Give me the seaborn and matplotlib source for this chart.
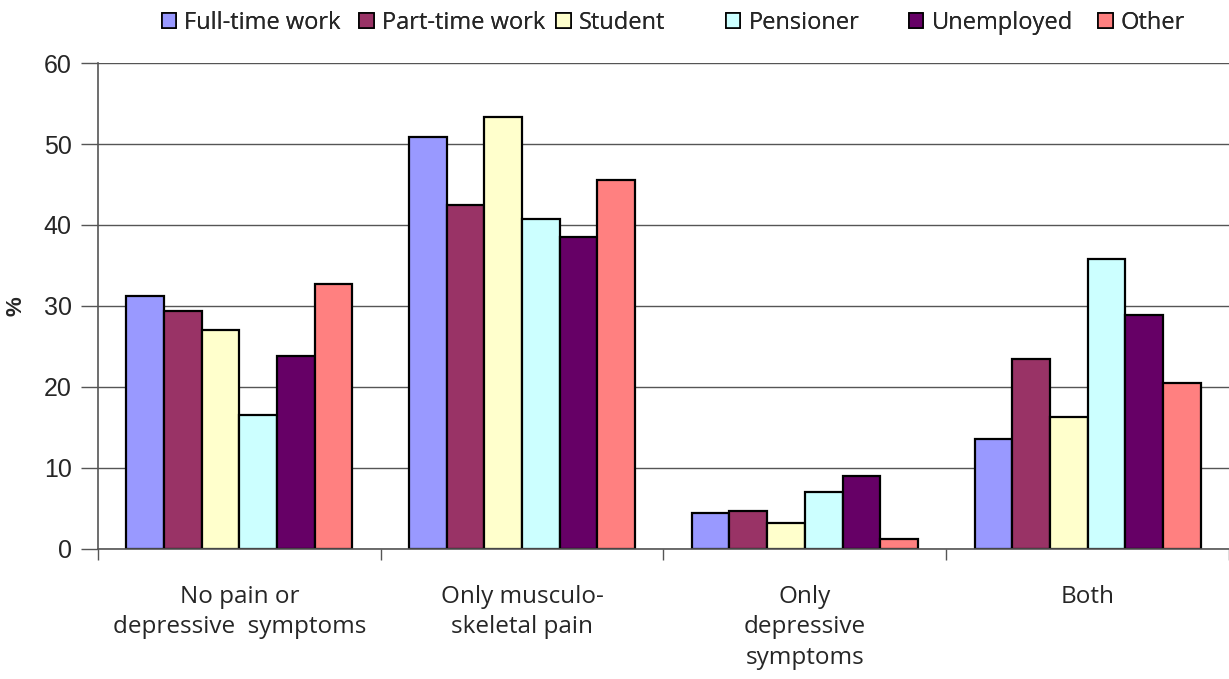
import pandas as pd
import matplotlib.pyplot as plt
import seaborn as sns
from matplotlib.patches import Patch

# categories and series
groups = ["No pain or\ndepressive  symptoms", "Only musculo-\nskeletal pain",
          "Only\ndepressive\nsymptoms", "Both"]
statuses = ["Full-time work", "Part-time work", "Student", "Pensioner", "Unemployed", "Other"]

full_time = [31.2, 50.9, 4.5, 13.6]
part_time = [29.4, 42.5, 4.7, 23.5]
student = [27.0, 53.3, 3.2, 16.3]
pensioner = [16.5, 40.8, 7.0, 35.8]
unemployed = [23.8, 38.5, 9.0, 28.9]
other = [32.7, 45.5, 1.2, 20.5]

colors = ["#9999FF", "#993366", "#FFFFCC", "#CCFFFF", "#660066", "#FF8080"]

# long format for seaborn
series = [full_time, part_time, student, pensioner, unemployed, other]
rows = []
for status, vals in zip(statuses, series):
    for g, v in zip(groups, vals):
        rows.append({"group": g, "status": status, "pct": v})
df = pd.DataFrame(rows)

sns.set_theme(style="white")
plt.rcParams["font.family"] = ["Open Sans", "DejaVu Sans"]

fig = plt.figure(figsize=(12.29, 6.79), dpi=100)
ax = fig.add_axes([0.0797, 0.1915, 0.9203, 0.7157])

sns.barplot(data=df, x="group", y="pct", hue="status", order=groups,
            hue_order=statuses, palette=colors, saturation=1,
            edgecolor="black", linewidth=1.6, width=0.8, ax=ax, legend=False)

ax.set_xlim(-0.5, len(groups) - 0.5)
ax.set_ylim(0, 60)
ax.set_yticks(range(0, 61, 10))
ax.set_yticklabels([str(v) for v in range(0, 61, 10)],
                   fontfamily="Liberation Sans", fontsize=18)
ax.yaxis.grid(True, color="#555555", linewidth=1)
ax.set_axisbelow(True)

# group labels centred, tick marks at group boundaries
ax.set_xticks(range(len(groups)))
ax.set_xticklabels(groups, fontsize=17.5, va="top", linespacing=1.35)
ax.tick_params(axis="x", which="major", length=0, pad=26)
ax.set_xticks([i - 0.5 for i in range(len(groups) + 1)], minor=True)
ax.tick_params(axis="x", which="minor", length=8, width=1, color="#555555",
               direction="out", bottom=True)
ax.tick_params(axis="y", length=12, width=1, color="#555555", direction="out",
               left=True, pad=7)

ax.set_xlabel("")
ax.set_ylabel("%", fontfamily="Liberation Sans", fontweight="bold",
              fontsize=16, labelpad=12)

for side in ["top", "right"]:
    ax.spines[side].set_visible(False)
for side in ["left", "bottom"]:
    ax.spines[side].set_color("#555555")
    ax.spines[side].set_linewidth(1.2)

# legend entries sit at uneven spacing in the original, one small legend each
legend_x = [0.118, 0.279, 0.439, 0.577, 0.726, 0.880]
for c, label, lx in zip(colors, statuses, legend_x):
    h = Patch(facecolor=c, edgecolor="black", linewidth=1.2)
    leg = fig.legend([h], [label], loc="upper left", bbox_to_anchor=(lx, 1.008),
                     frameon=False, fontsize=17, handlelength=0.62,
                     handleheight=0.62, handletextpad=0.35, borderpad=0.2)
    fig.add_artist(leg)

fig.savefig("out.png", dpi=100)
